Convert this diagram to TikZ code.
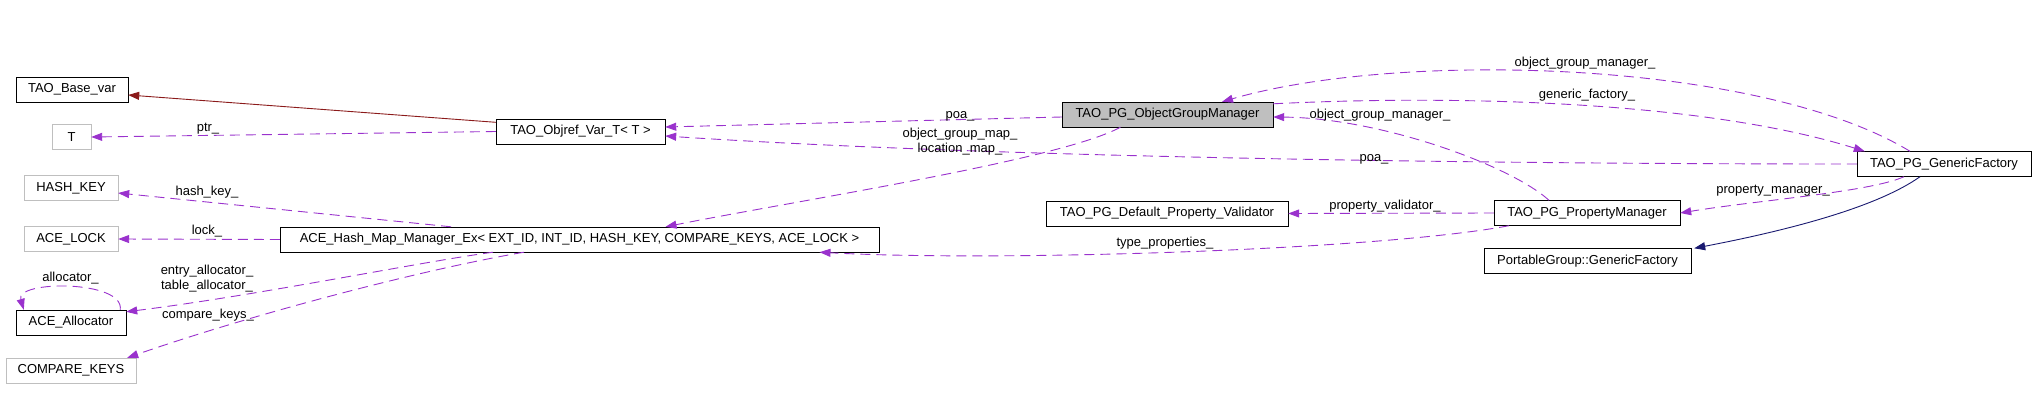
\documentclass[tikz,border=0pt]{standalone}
\usepackage{fontspec}
\setmainfont{Liberation Sans}
\usepackage{tikz}
\usetikzlibrary{arrows.meta}
\definecolor{Depend}{HTML}{9A32CD}
\definecolor{Inherit}{HTML}{8B1A1A}
\definecolor{Navy}{HTML}{191970}
\definecolor{BoxGray}{HTML}{BFBFBF}

\tikzset{
  cls/.style={draw, font=\fontsize{13}{15}\selectfont, minimum height=25pt, inner xsep=0pt, inner ysep=0pt},
  ext/.style={cls, draw=BoxGray},
  dep/.style={->, draw=Depend, line width=0.9pt, dash pattern=on 10pt off 6pt},
  inh/.style={->, line width=0.9pt},
  lbl/.style={font=\fontsize{13}{15}\selectfont, inner sep=0pt, anchor=base, black}
}

\begin{document}
\begin{tikzpicture}[x=1pt, y=-1pt, >={Triangle[length=11pt,width=8pt]}]
\useasboundingbox (0,0) rectangle (2035,399);

\node[cls, minimum width=112pt] at (72,89.5) (base) {TAO\_Base\_var};
\node[ext, minimum width=39pt] at (71.5,137) (t) {T};
\node[cls, minimum width=169pt] at (580.5,131.5) (objref) {TAO\_Objref\_Var\_T< T >};
\node[cls, fill=BoxGray, minimum width=211pt] at (1167.5,114.5) (ogm) {TAO\_PG\_ObjectGroupManager};
\node[ext, minimum width=94pt] at (71,188) (hashkey) {HASH\_KEY};
\node[ext, minimum width=94pt] at (71,239) (acelock) {ACE\_LOCK};
\node[cls, minimum width=599pt] at (579.5,239.5) (hashmap) {ACE\_Hash\_Map\_Manager\_Ex< EXT\_ID, INT\_ID, HASH\_KEY, COMPARE\_KEYS, ACE\_LOCK >};
\node[cls, minimum width=110pt] at (71,322.5) (alloc) {ACE\_Allocator};
\node[ext, minimum width=130pt] at (71,370.5) (cmpkeys) {COMPARE\_KEYS};
\node[cls, minimum width=242pt] at (1167,213.5) (validator) {TAO\_PG\_Default\_Property\_Validator};
\node[cls, minimum width=186pt] at (1587,213) (propmgr) {TAO\_PG\_PropertyManager};
\node[cls, minimum width=174pt] at (1944,164) (genfact) {TAO\_PG\_GenericFactory};
\node[cls, minimum width=207pt] at (1587.5,261) (pgfact) {PortableGroup::GenericFactory};

\draw[inh, draw=Inherit] ([yshift=-3.5pt]objref.north west) -- ([yshift=-5.5pt]base.east);
\draw[dep] (objref.west) -- (t.east) node[lbl] at (208,131) {ptr\_};
\draw[dep] ([yshift=-2.5pt]ogm.west) -- ([yshift=4.5pt]objref.east) node[lbl] at (960,118) {poa\_};
\draw[dep] (genfact.west) .. controls (1500,164) and (1000,158) .. ([yshift=-4.5pt]objref.east) node[lbl] at (1374,161) {poa\_};
\draw[dep] ([xshift=-47pt]ogm.south) .. controls (1060,160) and (800,200) .. ([xshift=86pt]hashmap.north)
  node[lbl, anchor=center, align=center] at (960,142) {object\_group\_map\_\\location\_map\_};
\draw[dep] ([xshift=-34pt]genfact.north) .. controls (1760,60) and (1400,50) .. ([xshift=54.5pt]ogm.north) node[lbl] at (1585,66) {object\_group\_manager\_};
\draw[dep] ([yshift=-2pt]ogm.north east) .. controls (1450,95) and (1700,100) .. ([xshift=8pt]genfact.north west) node[lbl] at (1587,98) {generic\_factory\_};
\draw[dep] ([xshift=-38pt]propmgr.north) .. controls (1510,165) and (1380,118) .. ([yshift=-2.5pt]ogm.east) node[lbl] at (1380,118) {object\_group\_manager\_};
\draw[dep] (propmgr.west) -- (validator.east) node[lbl] at (1385,209) {property\_validator\_};
\draw[dep] ([xshift=-78pt]propmgr.south) .. controls (1380,250) and (1000,262) .. ([xshift=240pt]hashmap.south) node[lbl] at (1165,246) {type\_properties\_};
\draw[dep] ([xshift=-40pt]genfact.south) .. controls (1870,192) and (1760,200) .. (propmgr.east) node[lbl] at (1773,193) {property\_manager\_};
\draw[inh, draw=Navy] ([xshift=-24pt]genfact.south) .. controls (1880,205) and (1800,228) .. ([xshift=3pt]pgfact.north east);

\draw[dep] ([xshift=-128.5pt]hashmap.north) -- ([yshift=-5pt]hashkey.east) node[lbl] at (207,195) {hash\_key\_};
\draw[dep] (hashmap.west) -- (acelock.east) node[lbl] at (207,234) {lock\_};
\draw[dep] ([xshift=-86.5pt]hashmap.south) .. controls (420,262) and (260,295) .. ([yshift=-2pt]alloc.north east)
  node[lbl, anchor=center, align=center] at (207,278.5) {entry\_allocator\_\\table\_allocator\_};
\draw[dep] ([xshift=-6pt]alloc.north east) .. controls (125,280) and (15,280) .. ([xshift=8pt]alloc.north west) node[lbl] at (70.5,281) {allocator\_};
\draw[dep] ([xshift=-55.5pt]hashmap.south) .. controls (420,270) and (250,315) .. ([xshift=-9pt]cmpkeys.north east) node[lbl] at (208,318) {compare\_keys\_};
\end{tikzpicture}
\end{document}
